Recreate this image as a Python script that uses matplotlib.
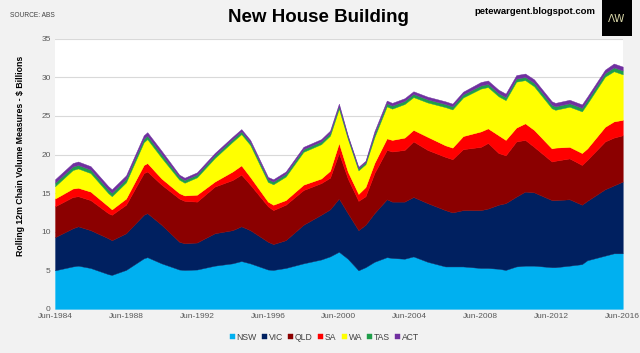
import matplotlib
matplotlib.use("Agg")
import matplotlib.pyplot as plt
from matplotlib.patches import Rectangle

plt.rcParams["font.family"] = ["Liberation Sans Narrow", "Liberation Sans", "DejaVu Sans"]

# time points (decimal years), values in $ billions
years = [1984.5, 1985.5, 1985.8, 1986.5, 1987.5, 1987.7, 1988.5, 1989.5, 1989.7, 1990.5,
         1991.5, 1991.8, 1992.5, 1993.5, 1994.5, 1995.0, 1995.5, 1996.5, 1996.8, 1997.5,
         1998.5, 1999.5, 2000.0, 2000.5, 2001.0, 2001.6, 2002.0, 2002.5, 2003.2, 2003.5,
         2004.2, 2004.7, 2005.5, 2006.5, 2006.9, 2007.5, 2008.5, 2008.9, 2009.5, 2009.9,
         2010.5, 2011.0, 2011.5, 2012.5, 2012.7, 2013.5, 2014.2, 2014.5, 2015.5, 2016.0,
         2016.5]

nsw = [5.0, 5.5, 5.6, 5.3, 4.5, 4.4, 5.05, 6.55, 6.7, 5.9,
       5.1, 5.05, 5.1, 5.6, 5.9, 6.2, 5.9, 5.1, 5.05, 5.3,
       5.9, 6.4, 6.8, 7.4, 6.5, 5.0, 5.4, 6.1, 6.7, 6.6,
       6.5, 6.8, 6.1, 5.5, 5.5, 5.5, 5.3, 5.3, 5.2, 5.05,
       5.5, 5.6, 5.6, 5.4, 5.4, 5.6, 5.8, 6.3, 6.9, 7.2,
       7.2]
vic = [4.3, 4.95, 5.1, 4.9, 4.65, 4.5, 4.75, 5.65, 5.7, 5.0,
       3.6, 3.45, 3.5, 4.2, 4.3, 4.5, 4.3, 3.6, 3.35, 3.6,
       5.0, 5.8, 6.1, 6.9, 5.9, 5.2, 5.5, 6.3, 7.5, 7.3,
       7.4, 7.7, 7.6, 7.3, 7.0, 7.3, 7.5, 7.7, 8.3, 8.65,
       9.05, 9.6, 9.5, 8.7, 8.7, 8.6, 7.7, 7.7, 8.6, 8.8,
       9.3]
qld = [4.0, 4.05, 3.9, 3.9, 3.25, 3.3, 3.7, 5.4, 5.4, 5.2,
       5.6, 5.5, 5.3, 6.05, 6.5, 6.7, 5.9, 4.6, 4.4, 4.6,
       4.5, 4.1, 4.1, 5.9, 4.5, 3.8, 3.7, 5.2, 6.4, 6.5,
       6.7, 7.2, 6.9, 6.9, 6.9, 7.9, 8.2, 8.5, 6.7, 6.2,
       7.15, 6.7, 5.9, 5.0, 5.1, 5.3, 5.15, 5.3, 6.2, 6.2,
       6.0]
sa = [1.0, 1.1, 1.1, 1.1, 0.9, 0.7, 0.8, 1.05, 1.1, 0.8,
      0.7, 0.7, 0.9, 0.65, 1.1, 1.2, 1.0, 0.6, 0.7, 0.6,
      0.7, 0.6, 0.9, 1.3, 0.9, 0.9, 1.2, 1.3, 1.5, 1.5,
      1.6, 1.5, 1.7, 1.5, 1.5, 1.7, 2.0, 1.9, 2.3, 2.0,
      1.8, 2.15, 2.2, 1.7, 1.7, 1.5, 1.55, 1.5, 1.9, 2.1,
      2.0]
wa = [1.6, 2.4, 2.5, 2.4, 1.7, 1.7, 2.1, 2.95, 3.1, 2.7,
      1.75, 1.65, 2.25, 3.05, 3.85, 4.05, 4.15, 2.55, 2.65, 3.05,
      4.25, 4.45, 4.55, 4.45, 4.25, 3.05, 2.95, 3.35, 4.15, 4.05,
      4.35, 4.25, 4.45, 4.95, 4.95, 5.0, 5.55, 5.35, 5.05, 5.15,
      5.95, 5.6, 5.65, 5.2, 4.9, 5.2, 5.4, 5.8, 6.5, 6.5,
      5.9]
tas = [0.45] * 10 + [0.35] * 14 + [0.25] * 3 + [0.4] * 15 + [0.45] * 7 + [0.5] * 2
act = [0.45] * 10 + [0.3] * 14 + [0.2] * 3 + [0.35] * 9 + [0.45] * 13 + [0.5] * 2

states = ["NSW", "VIC", "QLD", "SA", "WA", "TAS", "ACT"]
colors = ["#00b0f0", "#002060", "#8b0000", "#ff0000", "#ffff00", "#1f9e4a", "#7030a0"]

tick_years = [1984.5 + 4 * i for i in range(9)]
tick_labels = [f"Jun-{1984 + 4 * i}" for i in range(9)]

fig = plt.figure(figsize=(6.4, 3.53), dpi=100, facecolor="#f2f2f2")
ax = fig.add_axes([0.086, 0.125, 0.887, 0.765])
ax.set_facecolor("white")

series = [nsw, vic, qld, sa, wa, tas, act]
polys = ax.stackplot(years, *series, colors=colors, labels=states, linewidth=0.3)
for p, c in zip(polys, colors):
    p.set_edgecolor(c)

ax.set_xlim(1984.5, 2016.5)
ax.set_ylim(0, 35)
ax.set_yticks(range(0, 36, 5))
ax.yaxis.grid(True, color="#d9d9d9", linewidth=0.8)
ax.set_axisbelow(True)
ax.set_xticks(tick_years)
ax.set_xticklabels(tick_labels)
ax.tick_params(axis="both", length=0, labelsize=6, labelcolor="#595959", pad=3)
for s in ax.spines.values():
    s.set_visible(False)

# axis title sits a little above the plot centre in the original
fig.text(0.032, 0.558, "Rolling 12m Chain Volume Measures - $ Billions", rotation=90,
         ha="center", va="center", fontsize=6.3, fontweight="bold",
         family=["Liberation Sans", "DejaVu Sans"])

fig.text(0.498, 0.950, "New House Building", ha="center", va="center",
         fontsize=13.5, fontweight="bold")
fig.text(0.016, 0.957, "SOURCE: ABS", ha="left", va="center", fontsize=4.8, color="#404040")
fig.text(0.931, 0.967, "petewargent.blogspot.com", ha="right", va="center",
         fontsize=6.8, fontweight="bold")

# logo box
fig.patches.append(Rectangle((0.940, 0.897), 0.047, 0.103, transform=fig.transFigure,
                             facecolor="black", edgecolor="none"))
fig.text(0.963, 0.945, "ΛW", ha="center", va="center", fontsize=7.5, color="#d8d6a8",
         family=["DejaVu Sans"])

handles, labels = ax.get_legend_handles_labels()
fig.legend(handles, labels, loc="center", bbox_to_anchor=(0.507, 0.045), ncol=7,
           frameon=False, fontsize=6.2, handlelength=0.6, handleheight=0.6,
           handletextpad=0.2, columnspacing=0.6, labelcolor="#404040")

plt.savefig("out.png", dpi=100, facecolor=fig.get_facecolor())
plt.close()
